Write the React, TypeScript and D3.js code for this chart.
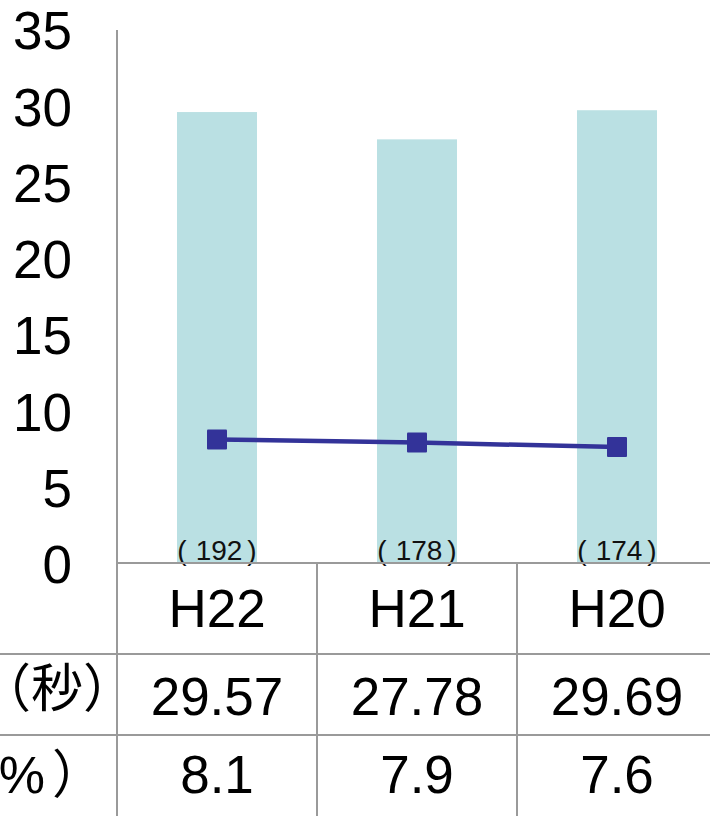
import React from "react";
import * as d3 from "d3";

const categories = ["H22", "H21", "H20"];
const seconds = [29.57, 27.78, 29.69];
const percents = [8.1, 7.9, 7.6];
const counts = [192, 178, 174];
const yTicks = [0, 5, 10, 15, 20, 25, 30, 35];
const secondsLabel = "（秒）";
const percentLabel = ["（%", "）"];

const W = 710;
const H = 816;
const axisX = 117;
const colW = 200;
const zeroY = 563;
const row1 = 654;
const row2 = 735;

export default function App() {
  const x = d3.scaleBand<string>().domain(categories).range([axisX, axisX + colW * categories.length]).paddingInner(0.6).paddingOuter(0.3);
  const xc = d3.scaleBand<string>().domain(categories).range([axisX, axisX + colW * categories.length]);
  const y = d3.scaleLinear().domain([0, 35]).range([zeroY, zeroY - 35 * 15.25]);
  const cx = (c: string) => (xc(c) as number) + xc.bandwidth() / 2;
  const line = d3.line<number>().x((_, i) => cx(categories[i])).y((d) => y(d));
  const font = "'Liberation Sans', Arial, 'Noto Sans CJK JP', sans-serif";
  const grid = "#9a9a9a";
  return (
    <svg width={W} height={H} style={{ position: "absolute", left: 0, top: 0, background: "#fff" }} fontFamily={font}>
      {seconds.map((v, i) => (
        <rect key={i} x={x(categories[i])} y={y(v)} width={x.bandwidth()} height={zeroY - y(v)} fill="#bae0e3" />
      ))}
      {counts.map((c, i) => (
        <text key={i} x={cx(categories[i])} y={560} fontSize={28} textAnchor="middle" fill="#111">
          <tspan>(</tspan>
          <tspan dx={9}>{String(c)}</tspan>
          <tspan dx={5}>)</tspan>
        </text>
      ))}
      <path d={line(percents) || ""} fill="none" stroke="#333399" strokeWidth={4.5} />
      {percents.map((v, i) => (
        <rect key={i} x={cx(categories[i]) - 10} y={y(v) - 10} width={20} height={20} fill="#333399" rx={1} />
      ))}
      {yTicks.map((t) => (
        <text key={t} x={72} y={y(t) + 20} fontSize={53} textAnchor="end" fill="#000">
          {t}
        </text>
      ))}
      <line x1={axisX} x2={axisX} y1={30} y2={H} stroke={grid} strokeWidth={2} />
      <line x1={axisX} x2={W} y1={zeroY} y2={zeroY} stroke={grid} strokeWidth={2} />
      <line x1={0} x2={W} y1={row1} y2={row1} stroke={grid} strokeWidth={2} />
      <line x1={0} x2={W} y1={row2} y2={row2} stroke={grid} strokeWidth={2} />
      {categories.slice(1).map((c) => (
        <line key={c} x1={xc(c)} x2={xc(c)} y1={zeroY} y2={H} stroke={grid} strokeWidth={2} />
      ))}
      {categories.map((c, i) => (
        <g key={c}>
          <text x={cx(c)} y={627} fontSize={53} textAnchor="middle">{c}</text>
          <text x={cx(c)} y={715} fontSize={53} textAnchor="middle">{seconds[i].toFixed(2)}</text>
          <text x={cx(c)} y={793} fontSize={53} textAnchor="middle">{percents[i].toFixed(1)}</text>
        </g>
      ))}
      <text x={57} y={707} fontSize={52} textAnchor="middle">{secondsLabel}</text>
      <text x={104} y={793} fontSize={52} textAnchor="end">
        <tspan>{percentLabel[0]}</tspan>
        <tspan dx={7}>{percentLabel[1]}</tspan>
      </text>
    </svg>
  );
}
